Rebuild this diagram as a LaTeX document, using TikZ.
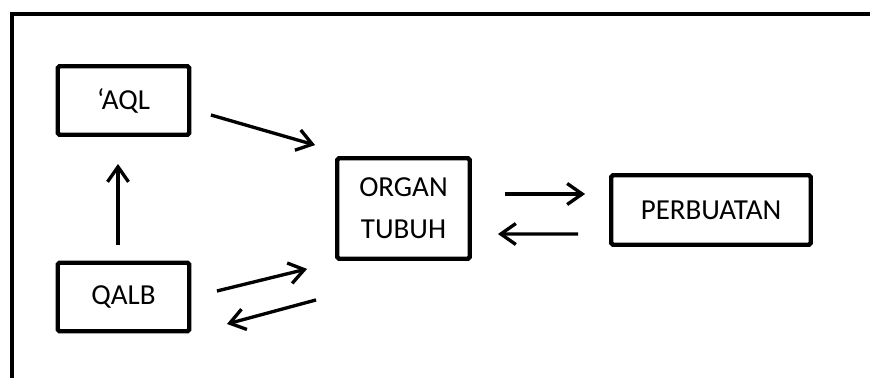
\documentclass[tikz,border=0pt]{standalone}
\usepackage{fontspec}
\setmainfont{Carlito}
\usetikzlibrary{arrows.meta}

\tikzset{
  box/.style={draw,line width=2.5pt,rounded corners=1pt,align=center,
    font=\fontsize{16.5}{24}\selectfont},
  arr/.style={line width=1.9pt,-{Straight Barb[length=0.3cm,width=0.42cm]}}
}

\begin{document}
\begin{tikzpicture}[x=0.02cm,y=-0.02cm]
\useasboundingbox (0,0) rectangle (870,378);

% frame, only the top and left edges
\draw[line width=2.6pt] (12,378) -- (12,14) -- (870,14);

\node[box,minimum width=2.63cm,minimum height=1.37cm] (aql) at (123.5,100.5) {‘AQL};
\node[box,minimum width=2.63cm,minimum height=1.37cm] (qalb) at (123.5,297) {QALB};
\node[box,minimum width=2.65cm,minimum height=2.01cm] (organ) at (403.5,208.5) {ORGAN\\TUBUH};
\node[box,minimum width=3.99cm,minimum height=1.39cm] (perbuatan) at (711,210) {PERBUATAN};

\draw[arr] ([shift={(-5.5,-16)}]qalb.north) -- ([shift={(-5.5,27)}]aql.south);
\draw[arr] ([shift={(19.5,14.5)}]aql.east) -- ([shift={(-20,-11)}]organ.north west);
\draw[arr] ([shift={(25.5,-6)}]qalb.east) -- ([shift={(-28,8)}]organ.south west);
\draw[arr] ([shift={(-19,39)}]organ.south west) -- ([shift={(35.5,27)}]qalb.east);

\draw[arr] ([shift={(33,-14.5)}]organ.east) -- ([shift={(-24,-16)}]perbuatan.west);
\draw[arr] ([shift={(-31,24)}]perbuatan.west) -- ([shift={(26,25.5)}]organ.east);
\end{tikzpicture}
\end{document}
